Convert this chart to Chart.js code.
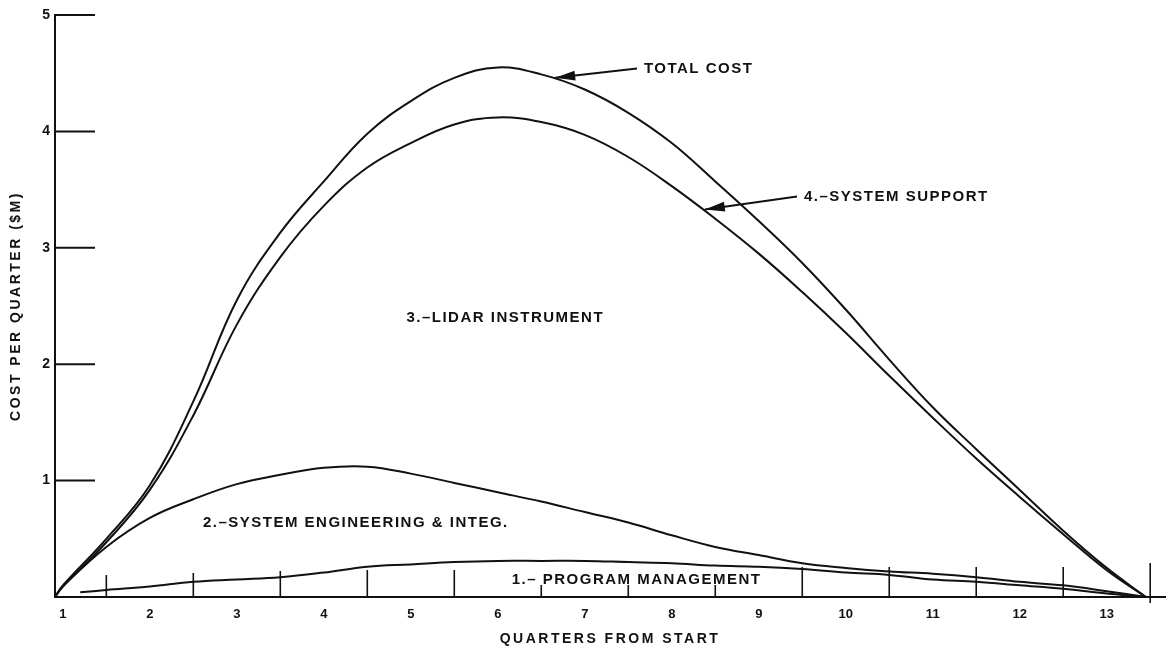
<!DOCTYPE html>
<html>
<head>
<meta charset="utf-8">
<script src="https://cdn.jsdelivr.net/npm/chart.js@4.4.1/dist/chart.umd.min.js"></script>
<style>
  html, body { margin: 0; padding: 0; background: #fff; }
  #wrap { width: 1168px; height: 651px; }
</style>
</head>
<body>
<div id="wrap"><canvas id="cost"></canvas></div>
<script>
// quarters from start (x positions of the read-off points)
const quarters = [0.91, 1, 1.5, 2, 2.5, 3, 3.5, 4, 4.5, 5, 5.5, 6, 6.5, 7, 7.5, 8, 8.5, 9, 9.5, 10, 10.5, 11, 11.5, 12, 12.5, 13, 13.45];
const pmQuarters = [1.2, 1.5, 2, 2.5, 3, 3.5, 4, 4.5, 5, 5.5, 6, 6.5, 7, 7.5, 8, 8.5, 9, 9.5, 10, 10.5, 11, 11.5, 12, 12.5, 13, 13.45];

// cumulative cost per quarter ($M), top edge of each band
const totalCost = [0, 0.10, 0.50, 0.96, 1.68, 2.55, 3.13, 3.57, 3.98, 4.26, 4.46, 4.55, 4.49, 4.36, 4.16, 3.90, 3.57, 3.23, 2.87, 2.47, 2.04, 1.63, 1.27, 0.92, 0.57, 0.25, 0];
const lidarTop  = [0, 0.09, 0.47, 0.92, 1.56, 2.34, 2.92, 3.36, 3.69, 3.90, 4.06, 4.12, 4.08, 3.97, 3.78, 3.53, 3.25, 2.95, 2.62, 2.27, 1.90, 1.54, 1.19, 0.86, 0.54, 0.23, 0];
const sysEngTop = [0, 0.09, 0.43, 0.68, 0.84, 0.97, 1.05, 1.11, 1.12, 1.06, 0.98, 0.90, 0.82, 0.73, 0.64, 0.53, 0.43, 0.36, 0.29, 0.25, 0.22, 0.20, 0.17, 0.13, 0.10, 0.05, 0];
const progMgmt  = [0.04, 0.06, 0.09, 0.13, 0.15, 0.17, 0.21, 0.26, 0.28, 0.30, 0.31, 0.31, 0.31, 0.30, 0.29, 0.27, 0.26, 0.24, 0.21, 0.19, 0.15, 0.13, 0.10, 0.07, 0.03, 0];

const xTickLabels = ['1', '2', '3', '4', '5', '6', '7', '8', '9', '10', '11', '12', '13'];
const yTickLabels = ['1', '2', '3', '4', '5'];

const ink = '#111';
const font = "'Liberation Sans', Arial, sans-serif";

function pts(xs, ys) {
  return ys.map((v, i) => ({ x: xs[i], y: v }));
}

function line(label, xs, ys) {
  return {
    label: label,
    data: pts(xs, ys),
    borderColor: ink,
    borderWidth: 2,
    pointRadius: 0,
    fill: false,
    tension: 0.4
  };
}

// spaced-out lettering for the axis titles only
function spaceTitle(scale) {
  if (scale._spaced) return;
  const orig = scale.drawTitle;
  scale.drawTitle = function () {
    this.ctx.save();
    this.ctx.letterSpacing = '2.5px';
    orig.apply(this, arguments);
    this.ctx.restore();
  };
  scale._spaced = true;
}

// inward tick marks, curve labels and arrows
const decor = {
  id: 'decor',
  beforeDraw(chart) {
    spaceTitle(chart.scales.x);
    spaceTitle(chart.scales.y);
  },
  afterDraw(chart) {
    const ctx = chart.ctx;
    const x = chart.scales.x, y = chart.scales.y;
    const base = y.getPixelForValue(0);
    ctx.save();
    ctx.strokeStyle = ink;
    ctx.fillStyle = ink;
    ctx.lineWidth = 2;

    // y ticks pointing into the plot
    yTickLabels.forEach(t => {
      const py = y.getPixelForValue(Number(t));
      ctx.beginPath();
      ctx.moveTo(chart.chartArea.left, py);
      ctx.lineTo(chart.chartArea.left + 40, py);
      ctx.stroke();
    });

    // quarter boundary ticks
    const tickLen = [22, 24, 26, 27, 27, 12, 12, 12, 30, 30, 30, 30, 34];
    ctx.lineWidth = 1.6;
    xTickLabels.forEach((t, i) => {
      const px = x.getPixelForValue(Number(t) + 0.5);
      ctx.beginPath();
      ctx.moveTo(px, base + (i === 12 ? 6 : 0));
      ctx.lineTo(px, base - tickLen[i]);
      ctx.stroke();
    });

    // curve labels
    ctx.letterSpacing = '1.5px';
    ctx.font = 'bold 15px ' + font;
    ctx.textBaseline = 'middle';
    ctx.textAlign = 'left';
    const notes = [
      ['TOTAL COST', 7.68, 4.54],
      ['4.\u2013SYSTEM SUPPORT', 9.52, 3.44],
      ['3.\u2013LIDAR INSTRUMENT', 4.95, 2.40],
      ['2.\u2013SYSTEM ENGINEERING & INTEG.', 2.61, 0.64],
      ['1.\u2013 PROGRAM MANAGEMENT', 6.16, 0.15]
    ];
    notes.forEach(n => ctx.fillText(n[0], x.getPixelForValue(n[1]), y.getPixelForValue(n[2])));

    // arrows pointing at the curves
    const arrows = [
      [7.6, 4.54, 6.66, 4.46],
      [9.44, 3.44, 8.38, 3.33]
    ];
    ctx.lineWidth = 2;
    arrows.forEach(a => {
      const x0 = x.getPixelForValue(a[0]), y0 = y.getPixelForValue(a[1]);
      const x1 = x.getPixelForValue(a[2]), y1 = y.getPixelForValue(a[3]);
      const ang = Math.atan2(y1 - y0, x1 - x0);
      ctx.beginPath();
      ctx.moveTo(x0, y0);
      ctx.lineTo(x1, y1);
      ctx.stroke();
      ctx.beginPath();
      ctx.moveTo(x1, y1);
      ctx.lineTo(x1 - 20 * Math.cos(ang) + 5 * Math.sin(ang), y1 - 20 * Math.sin(ang) - 5 * Math.cos(ang));
      ctx.lineTo(x1 - 20 * Math.cos(ang) - 5 * Math.sin(ang), y1 - 20 * Math.sin(ang) + 5 * Math.cos(ang));
      ctx.closePath();
      ctx.fill();
    });
    ctx.restore();
  }
};

new Chart(document.getElementById('cost'), {
  type: 'line',
  data: {
    datasets: [
      line('Total cost', quarters, totalCost),
      line('4. System support', quarters, lidarTop),
      line('2. System engineering & integ.', quarters, sysEngTop),
      line('1. Program management', pmQuarters, progMgmt)
    ]
  },
  options: {
    responsive: true,
    maintainAspectRatio: false,
    animation: false,
    layout: { padding: { top: 15, right: 3, left: 0, bottom: 0 } },
    plugins: {
      legend: { display: false },
      tooltip: { enabled: false }
    },
    scales: {
      x: {
        type: 'linear',
        min: 0.91,
        max: 13.67,
        afterBuildTicks: s => { s.ticks = xTickLabels.map(t => ({ value: Number(t) })); },
        afterFit: s => { s.height = 54; },
        grid: { display: false, drawTicks: false },
        border: { display: true, color: ink, width: 2 },
        ticks: {
          color: ink,
          padding: 10,
          font: { family: font, size: 13, weight: 'bold' },
          maxRotation: 0,
          autoSkip: false
        },
        title: {
          display: true,
          text: 'QUARTERS FROM START',
          color: ink,
          font: { family: font, size: 14, weight: 'bold' },
          padding: { top: 2, bottom: 3 }
        }
      },
      y: {
        min: 0,
        max: 5,
        afterBuildTicks: s => { s.ticks = yTickLabels.map(t => ({ value: Number(t) })); },
        afterFit: s => { s.width = 55; },
        grid: { display: false, drawTicks: false },
        border: { display: true, color: ink, width: 2 },
        ticks: {
          color: ink,
          padding: 5,
          font: { family: font, size: 14, weight: 'bold' }
        },
        title: {
          display: true,
          text: 'COST PER QUARTER ($M)',
          color: ink,
          font: { family: font, size: 14, weight: 'bold' },
          padding: { top: 8, bottom: 4 }
        }
      }
    }
  },
  plugins: [decor]
});
</script>
</body>
</html>
